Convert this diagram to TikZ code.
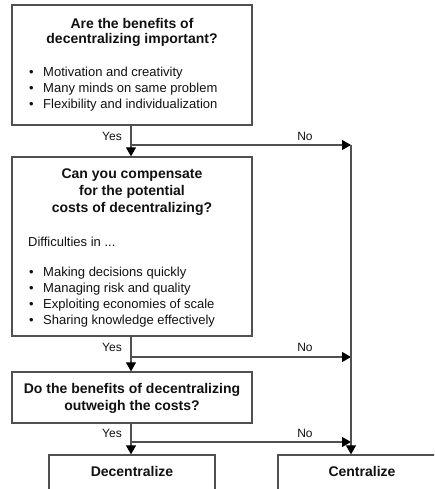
\documentclass[tikz,border=0pt]{standalone}
\usepackage{fontspec}
\setmainfont{Liberation Sans}
\usetikzlibrary{arrows.meta}
\definecolor{linec}{HTML}{505050}
\definecolor{txtc}{HTML}{111111}
\tikzset{
  box/.style={draw=linec, line width=1.3pt, fill=white, inner sep=0pt},
  ttl/.style={font=\fontsize{14}{17}\selectfont\bfseries, text=txtc, align=center, inner sep=0pt},
  body/.style={font=\fontsize{13}{16}\selectfont, text=txtc, anchor=west, inner sep=0pt},
  lbl/.style={font=\fontsize{12}{14}\selectfont, text=txtc, inner sep=0pt},
  conn/.style={draw=linec, line width=1.1pt},
  arr/.style={conn, -{Triangle[length=9pt,width=10pt,color=black]}}
}
\begin{document}
\begin{tikzpicture}[x=1pt,y=-1pt]
\useasboundingbox (0,0) rectangle (434,489);
\clip (0,0) rectangle (434,489);
% boxes
\node[box, minimum width=240pt, minimum height=120pt] (b1) at (132,65) {};
\node[box, minimum width=240pt, minimum height=179pt] (b2) at (132,246.5) {};
\node[box, minimum width=240pt, minimum height=51pt] (b3) at (132,397.5) {};
\node[box, minimum width=166pt, minimum height=60pt] (dec) at (132,485) {};
\node[box, minimum width=170pt, minimum height=60pt] (cen) at (363,485) {};
% box 1 text
\node[ttl] (t1a) at (132,23) {Are the benefits of};
\node[ttl] (t1b) at (132,40) {decentralizing important?};
\node[body] (p1a) at (29,73) {•\hspace{9.5pt}Motivation and creativity};
\node[body] (p1b) at (29,89) {•\hspace{9.5pt}Many minds on same problem};
\node[body] (p1c) at (29,105) {•\hspace{9.5pt}Flexibility and individualization};
% box 2 text
\node[ttl] (t2a) at (132,175) {Can you compensate};
\node[ttl] (t2b) at (132,192) {for the potential};
\node[ttl] (t2c) at (132,209) {costs of decentralizing?};
\node[body] (d2) at (28,242) {Difficulties in ...};
\node[body] (p2a) at (29,273) {•\hspace{9.5pt}Making decisions quickly};
\node[body] (p2b) at (29,289) {•\hspace{9.5pt}Managing risk and quality};
\node[body] (p2c) at (29,305) {•\hspace{9.5pt}Exploiting economies of scale};
\node[body] (p2d) at (29,321) {•\hspace{9.5pt}Sharing knowledge effectively};
% box 3 text
\node[ttl] (t3a) at (132,390) {Do the benefits of decentralizing};
\node[ttl] (t3b) at (132,407) {outweigh the costs?};
% final boxes text
\node[ttl] (td) at (132,471) {Decentralize};
\node[ttl] (tc) at (362,471) {Centralize};
% junctions
\coordinate (j1) at (131,145);
\coordinate (r1) at (351,145);
\coordinate (j2) at (131,357);
\coordinate (r2) at (351,357);
\coordinate (j3) at (131,442);
\coordinate (r3) at (351,442);
% connectors
\draw[arr] (b1.south -| j1) -- (b2.north -| j1);
\draw[arr] (j1) -- (r1);
\draw[arr] (b2.south -| j2) -- (b3.north -| j2);
\draw[arr] (j2) -- (r2);
\draw[arr] (b3.south -| j3) -- (dec.north -| j3);
\draw[arr] (j3) -- (r3);
\draw[arr] (r1) -- (cen.north -| r1);
% labels
\node[lbl] (y1) at (112,136) {Yes};
\node[lbl] (n1) at (305,136) {No};
\node[lbl] (y2) at (112,347) {Yes};
\node[lbl] (n2) at (305,347) {No};
\node[lbl] (y3) at (112,433) {Yes};
\node[lbl] (n3) at (305,433) {No};
\end{tikzpicture}
\end{document}
